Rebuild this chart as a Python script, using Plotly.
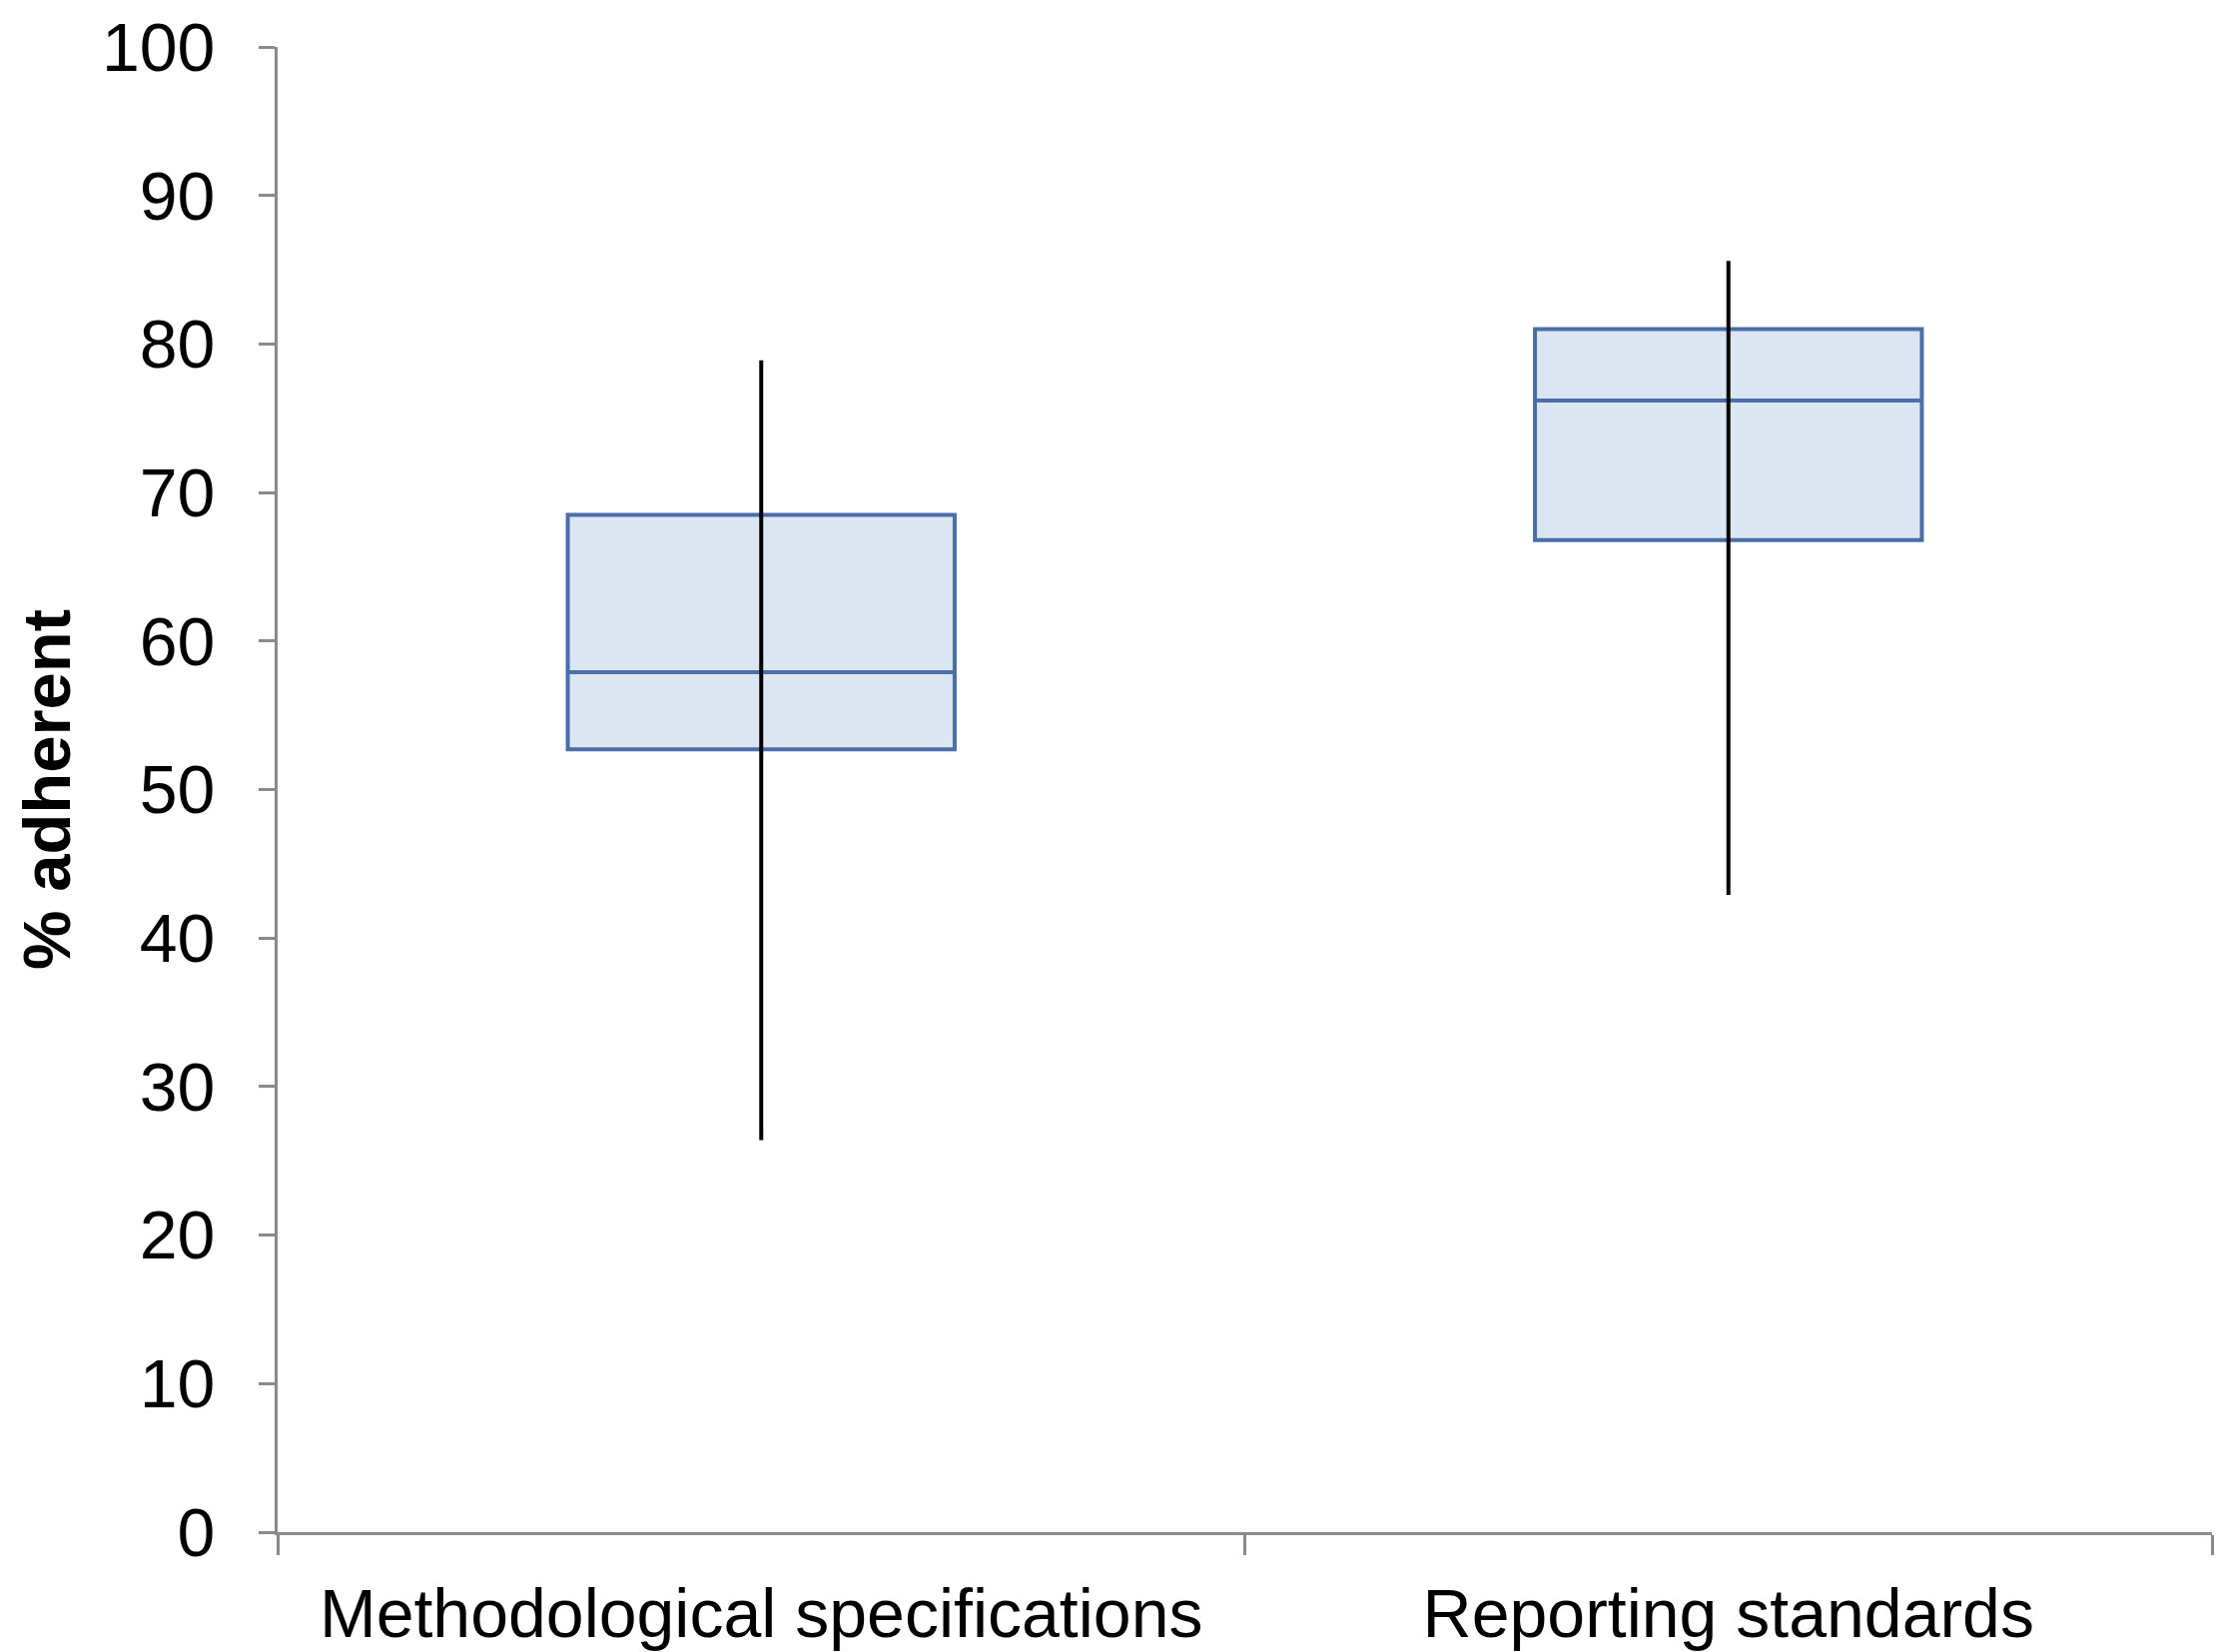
import plotly.graph_objects as go

categories = ["Methodological specifications", "Reporting standards"]
q1 = [52.7, 66.8]
median = [57.9, 76.2]
q3 = [68.5, 81.0]
lower = [26.4, 42.9]
upper = [78.9, 85.6]
y_ticks = list(range(0, 101, 10))

FONT = "Liberation Sans, Arial, sans-serif"
AXIS_GRAY = "#8a8a8a"

fig = go.Figure()
fig.add_trace(go.Box(
    x=categories, q1=q1, median=median, q3=q3,
    lowerfence=q1, upperfence=q3,
    width=0.4, boxpoints=False,
    fillcolor="#dce6f2", line=dict(color="#4a6fa8", width=4),
    whiskerwidth=0, showlegend=False, hoverinfo="skip",
))

wx, wy = [], []
for c, lo, hi in zip(categories, lower, upper):
    wx += [c, c, None]
    wy += [lo, hi, None]
fig.add_trace(go.Scatter(
    x=wx, y=wy, mode="lines",
    line=dict(color="#000000", width=4),
    showlegend=False, hoverinfo="skip",
))

fig.update_layout(
    width=2219, height=1654,
    margin=dict(l=278, r=4, t=47, b=120),
    paper_bgcolor="white", plot_bgcolor="white",
    font=dict(family=FONT, color="black", size=64),
    xaxis=dict(
        type="category", categoryorder="array", categoryarray=categories,
        range=[-0.5, 1.5], automargin=False,
        tickson="boundaries", ticks="outside", ticklen=20, tickwidth=3,
        tickcolor=AXIS_GRAY, showline=True, linecolor=AXIS_GRAY, linewidth=3,
        showgrid=False, zeroline=False, ticklabelstandoff=20,
        tickfont=dict(family=FONT, size=68, color="black"),
    ),
    yaxis=dict(
        range=[0, 100], tickvals=y_ticks, ticktext=[str(v) for v in y_ticks],
        automargin=False,
        ticks="outside", ticklen=16, tickwidth=3, tickcolor=AXIS_GRAY,
        showline=True, linecolor=AXIS_GRAY, linewidth=3,
        showgrid=False, zeroline=False, ticklabelstandoff=30,
        tickfont=dict(family=FONT, size=68, color="black"),
        title=dict(text="<b>% adherent</b>", font=dict(family=FONT, size=67, color="black"), standoff=10),
    ),
)

fig.write_html(
    "out.html",
    config={"displayModeBar": False},
    post_script="document.body.style.margin='0';document.body.style.overflow='hidden';",
)
